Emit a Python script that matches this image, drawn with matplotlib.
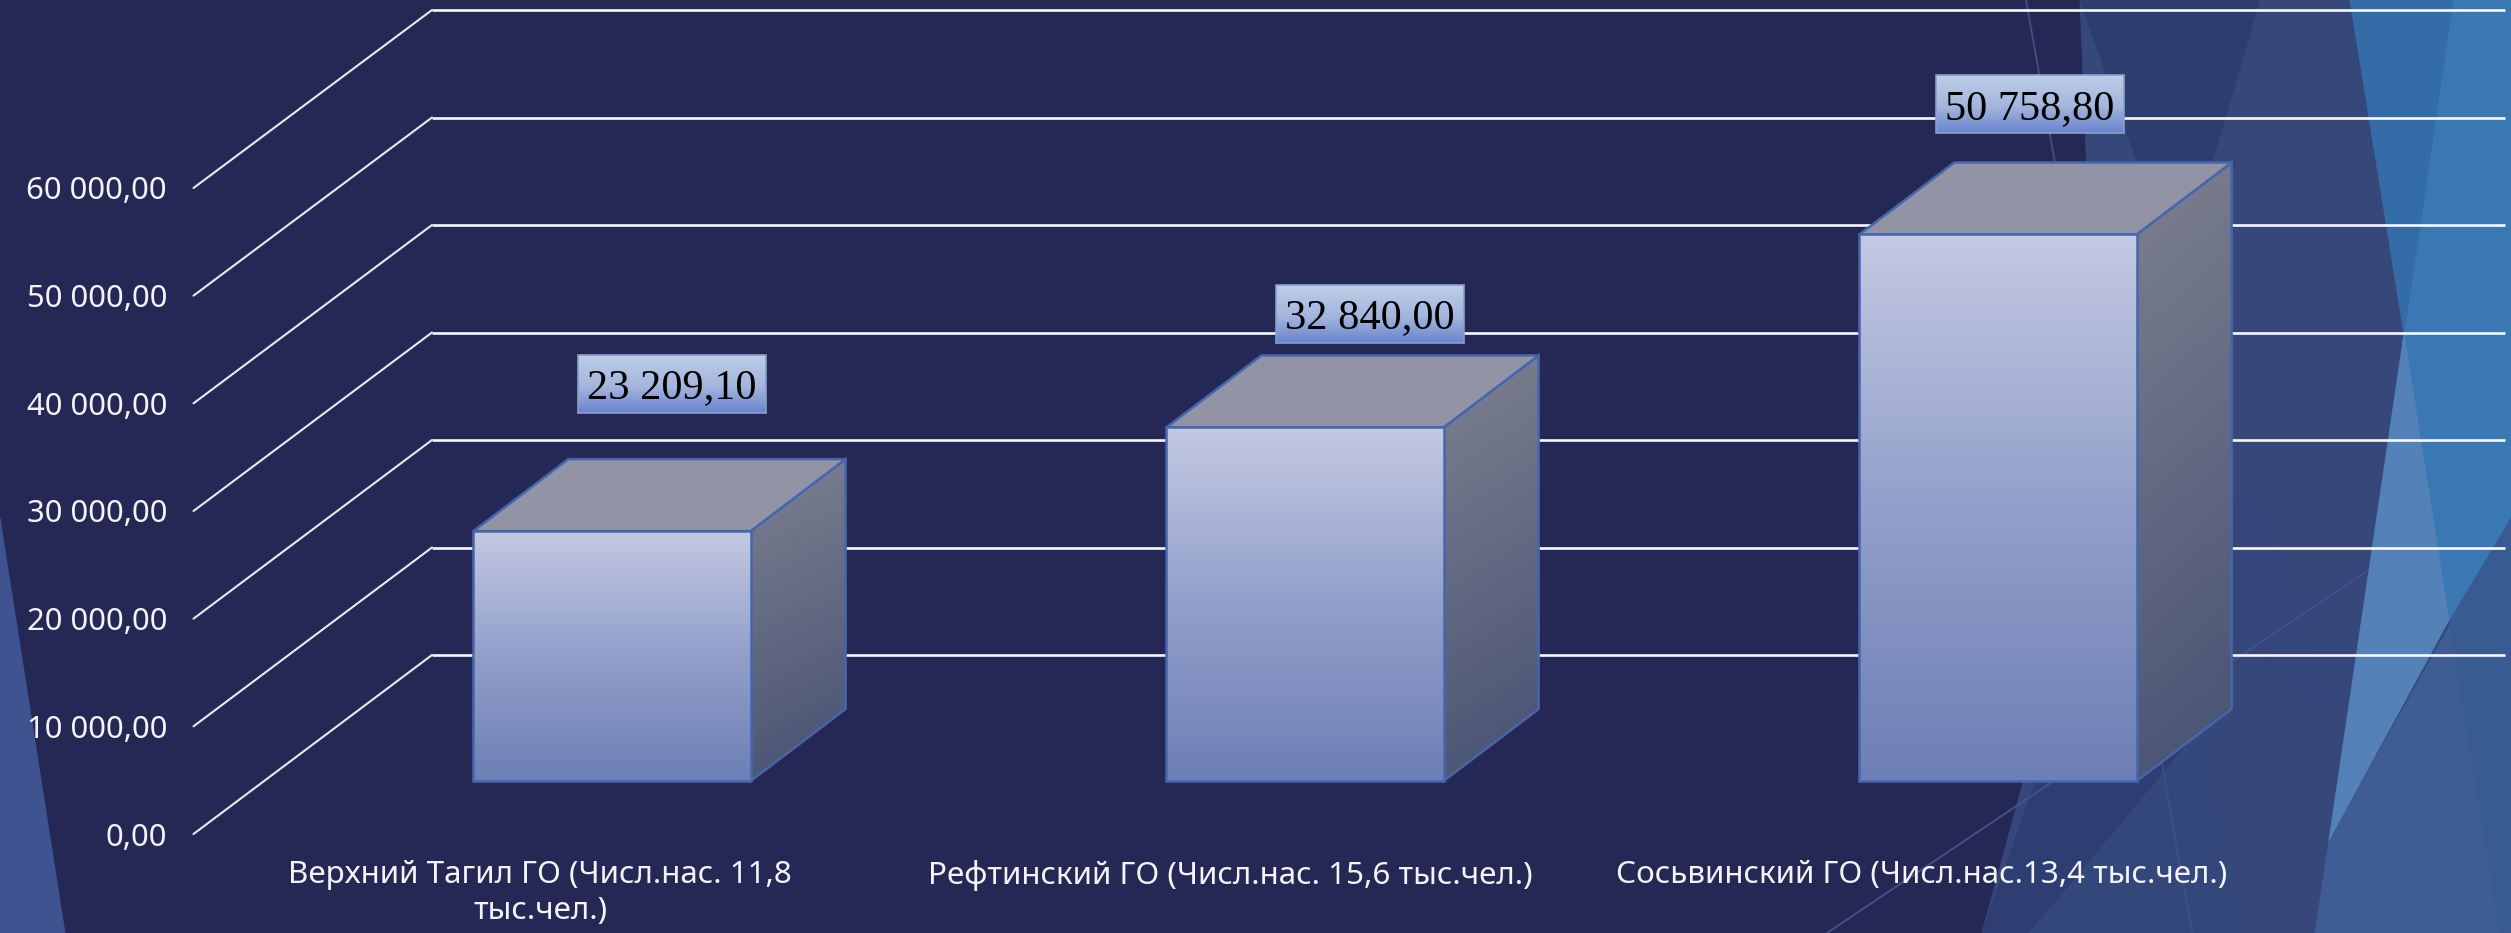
import numpy as np
import matplotlib
matplotlib.use("Agg")
import matplotlib.pyplot as plt
from matplotlib.patches import Polygon, Rectangle, ConnectionPatch
from matplotlib.transforms import IdentityTransform
from matplotlib.ticker import FuncFormatter

# ---- data ----
categories = ["Верхний Тагил ГО (Числ.нас. 11,8\nтыс.чел.)",
              "Рефтинский ГО (Числ.нас. 15,6 тыс.чел.)",
              "Сосьвинский ГО (Числ.нас.13,4 тыс.чел.)"]
values = [23209.10, 32840.00, 50758.80]
y_ticks = [0, 10000, 20000, 30000, 40000, 50000, 60000]

# ---- style / layout ----
W, H = 2511, 933
DPI = 100
BG = "#252855"
EDGE = "#4566ae"
UI_FONT = ["Noto Sans", "DejaVu Sans"]
BAR_WIDTH = 0.4
DEPTH = (95, 72)
LABEL_OFFSET = [(60, 147), (65, 113.5), (31.5, 130)]
LABEL_SIZE = (188, 58)


def fmt(v, _=None):
    return f"{v:,.2f}".replace(",", " ").replace(".", ",")


def rect(l, t, r, b):
    """pixel box (top-left origin) -> figure fraction rect"""
    return [l / W, 1 - b / H, (r - l) / W, (b - t) / H]


fig = plt.figure(figsize=(W / DPI, H / DPI), dpi=DPI, facecolor=BG)

# ---- decorative backdrop ----
ax_bg = fig.add_axes([0, 0, 1, 1], zorder=-1)
ax_bg.set_xlim(0, W)
ax_bg.set_ylim(H, 0)
ax_bg.axis("off")
backdrop = [
    ("#364779", [(2080, 0), (W, 0), (W, H), (1982, H), (2100, 500)]),
    ("#2e3d70", [(2080, 0), (2260, 0), (2178, 278)]),
    ("#2f3e72", [(1982, H), (2029, H), (2205, 722), (2100, 600)]),
    ("#34477b", [(2029, H), (2239, H), (2202, 733)]),
    ("#34467a", [(2233, 500), (2258, 500), (2336, 713), (2233, 640)]),
    ("#3f5c94", [(2315, H), (2329, 840), (W, 517), (W, H)]),
    ("#385b92", [(2449, 620), (W, 517), (W, H), (2500, H)]),
    ("#3a78b4", [(2453, 0), (W, 0), (W, 517), (2449, 620), (2404, 334)]),
    ("#346ca8", [(2350, 0), (2453, 0), (2404, 334)]),
    ("#5482b8", [(2404, 334), (2449, 620), (2329, 840)]),
    ("#3e5390", [(0, 518), (65, H), (0, H)]),
]
for color, pts in backdrop:
    ax_bg.add_patch(Polygon(pts, closed=True, facecolor=color, edgecolor=color, lw=0.6))
ax_bg.plot([2026, 2192], [0, H], color="#3d4f85", lw=1.4)
ax_bg.plot([1827, 2367], [H, 571], color="#3e5290", lw=1.4)

# ---- back wall with gridlines ----
ax_wall = fig.add_axes(rect(432, 10, 2505, 655), zorder=1)
ax_wall.set_ylim(0, 60000)
ax_wall.axis("off")
ax_wall.hlines(y_ticks, 0, 1, transform=ax_wall.get_yaxis_transform(),
               color="#f8f8fc", lw=1.9, clip_on=False)

# ---- front plane: tick labels ----
ax_front = fig.add_axes(rect(193.5, 188, 193.5 + 2071.5, 834), zorder=2)
ax_front.patch.set_alpha(0)
ax_front.set_xlim(-0.502, 2.498)
ax_front.set_ylim(0, 60000)
for s in ax_front.spines.values():
    s.set_visible(False)
ax_front.set_yticks(y_ticks)
ax_front.yaxis.set_major_formatter(FuncFormatter(fmt))
ax_front.set_xticks(range(len(categories)))
ax_front.set_xticklabels(categories, linespacing=1.26)
ax_front.tick_params(axis="y", length=0, pad=19, labelcolor="#f4f4f8")
ax_front.tick_params(axis="x", length=0, pad=19, labelcolor="#f4f4f8")
for lab in ax_front.get_yticklabels():
    lab.set_fontfamily(UI_FONT)
    lab.set_fontsize(22.3)
for lab in ax_front.get_xticklabels():
    lab.set_fontfamily(UI_FONT)
    lab.set_fontsize(22.6)

# floor diagonals
for v in y_ticks:
    con = ConnectionPatch(xyA=(0, v), coordsA=ax_front.get_yaxis_transform(),
                          xyB=(0, v), coordsB=ax_wall.get_yaxis_transform(),
                          color="#e9e9f0", lw=1.5, zorder=1.5)
    fig.add_artist(con)

# ---- bars ----
ax_bar = fig.add_axes(rect(265.5, 135, 265.5 + 2079, 781), zorder=3)
ax_bar.patch.set_alpha(0)
ax_bar.set_xlim(-0.5, 2.5)
ax_bar.set_ylim(0, 60000)
ax_bar.axis("off")
ax_bar.set_autoscale_on(False)
ident = IdentityTransform()


def ramp(stops, t):
    xs = [s[0] for s in stops]
    cols = np.array([matplotlib.colors.to_rgb(s[1]) for s in stops])
    return np.stack([np.interp(t, xs, cols[:, k]) for k in range(3)], axis=-1)


FRONT = [(0, "#c3c9e2"), (0.5, "#929fca"), (1, "#6d7fb5")]
SIDE = [(0, "#7d8090"), (1, "#465172")]
TOP_FACE = "#9294a5"
BOX = [(0, "#bdcee7"), (0.55, "#a3b5dc"), (1, "#6a84d0")]


def gradient(pts, array, zorder):
    """paint array inside polygon given in display pixels"""
    pts = np.asarray(pts)
    poly = Polygon(pts, closed=True, transform=ident, facecolor="none",
                   edgecolor=EDGE, lw=1.8, zorder=zorder + 0.5, joinstyle="miter",
                   clip_on=False)
    ax_bar.add_patch(poly)
    l, r = pts[:, 0].min(), pts[:, 0].max()
    b, t = pts[:, 1].min(), pts[:, 1].max()
    im = ax_bar.imshow(array, extent=(l, r, b, t), origin="upper", aspect="auto",
                       transform=ident, interpolation="bilinear", zorder=zorder)
    im.set_clip_box(fig.bbox)
    im.set_clip_path(poly)


dx, dy = DEPTH
for i, v in enumerate(values):
    x0, y0 = ax_bar.transData.transform((i - BAR_WIDTH / 2, 0))
    x1, y1 = ax_bar.transData.transform((i + BAR_WIDTH / 2, v))
    # top
    ax_bar.add_patch(Polygon([(x0, y1), (x1, y1), (x1 + dx, y1 + dy), (x0 + dx, y1 + dy)],
                             closed=True, transform=ident, facecolor=TOP_FACE,
                             edgecolor=EDGE, lw=1.8, zorder=4, clip_on=False))
    # side
    vv, uu = np.mgrid[0:1:200j, 0:1:60j]
    gradient([(x1, y0), (x1 + dx, y0 + dy), (x1 + dx, y1 + dy), (x1, y1)],
             ramp(SIDE, 0.88 * vv + 0.12 * uu), 3)
    # front
    tt = np.linspace(0, 1, 256)[:, None]
    gradient([(x0, y0), (x1, y0), (x1, y1), (x0, y1)], ramp(FRONT, tt), 5)

    # value label with gradient box
    ox, oy = LABEL_OFFSET[i]
    bw, bh = LABEL_SIZE
    cx, cy = (x0 + x1) / 2 + ox, y1 + oy
    tb = np.linspace(0, 1, 64)[:, None]
    im = ax_bar.imshow(ramp(BOX, tb), extent=(cx - bw / 2, cx + bw / 2, cy - bh / 2, cy + bh / 2),
                       origin="upper", aspect="auto", transform=ident,
                       interpolation="bilinear", zorder=7)
    im.set_clip_box(fig.bbox)
    ax_bar.add_patch(Rectangle((cx - bw / 2, cy - bh / 2), bw, bh, transform=ident,
                               facecolor="none", edgecolor="#8a9fc8", lw=1.2,
                               zorder=7.5, clip_on=False))
    ax_bar.annotate(fmt(v), xy=(i, v), xycoords="data",
                    xytext=(ox, oy - 4), textcoords="offset pixels",
                    ha="center", va="center", fontsize=30.5, color="black",
                    family=["Liberation Serif", "DejaVu Serif"], zorder=8,
                    annotation_clip=False)

fig.savefig("out.png", dpi=DPI, facecolor=BG)
